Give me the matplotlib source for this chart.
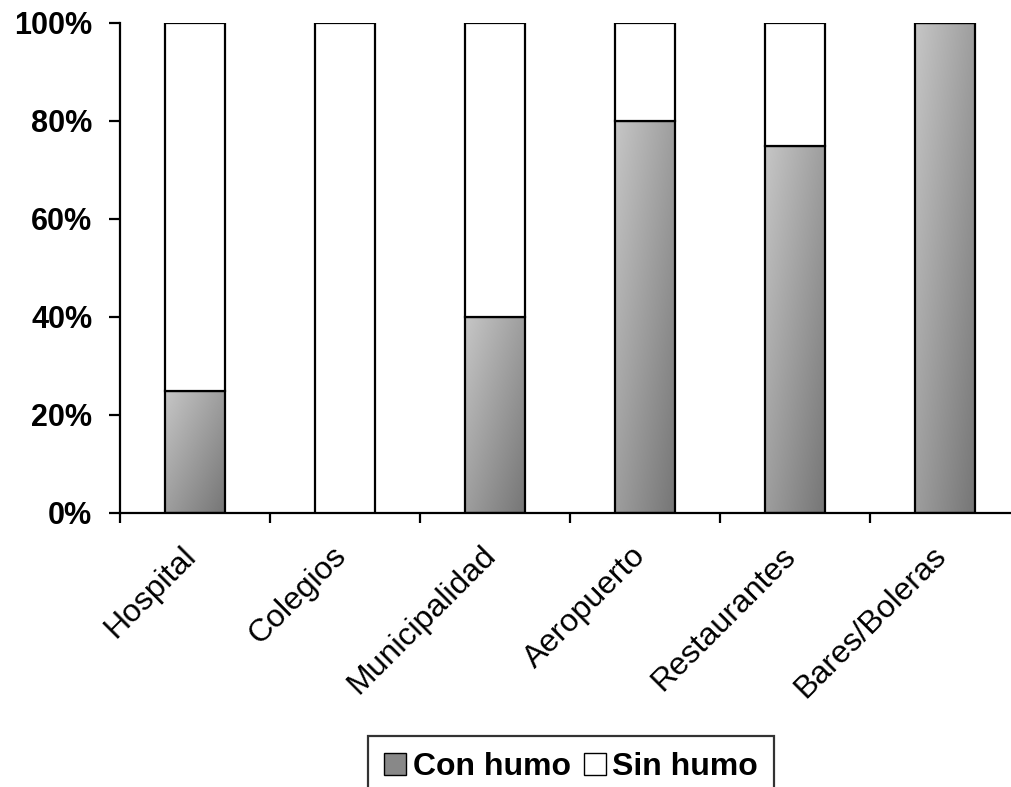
import numpy as np
import matplotlib
matplotlib.use("Agg")
import matplotlib.pyplot as plt
import matplotlib.transforms as mtransforms
from matplotlib.patches import Patch
from matplotlib.colors import LinearSegmentedColormap

plt.rcParams["font.family"] = ["Liberation Sans", "DejaVu Sans"]

categories = ["Hospital", "Colegios", "Municipalidad", "Aeropuerto", "Restaurantes", "Bares/Boleras"]
con_humo = [25, 0, 40, 80, 75, 100]
sin_humo = [75, 100, 60, 20, 25, 0]

fig = plt.figure(figsize=(10.12, 7.87), dpi=100)
ax = fig.add_axes([120 / 1012, 274 / 787, 900 / 1012, 490 / 787])

x = np.arange(len(categories))
w = 0.4
bars_con = ax.bar(x, con_humo, w, color="none", edgecolor="black", linewidth=1.6, zorder=3)
ax.bar(x, sin_humo, w, bottom=con_humo, color="white", edgecolor="black", linewidth=1.6, zorder=3)

# diagonal gray gradient (light top-left -> dark bottom-right)
cmap = LinearSegmentedColormap.from_list("g", ["#c6c6c6", "#767676"])
gy, gx = np.mgrid[0:1:100j, 0:1:100j]
grad = gx * 0.5 + gy * 0.5
for b in bars_con:
    if b.get_height() <= 0:
        continue
    x0, y0 = b.get_x(), b.get_y()
    im = ax.imshow(grad, cmap=cmap, vmin=0, vmax=1, origin="upper",
                   extent=[x0, x0 + b.get_width(), y0, y0 + b.get_height()],
                   aspect="auto", zorder=2, interpolation="bilinear")
    im.set_clip_path(b)

ax.set_xlim(-0.5, 5.5)
ax.set_ylim(0, 100)
ax.set_xticks(np.arange(-0.5, 6.0, 1.0))
ax.set_xticklabels([])
ax.set_xticks(x, minor=True)
ax.set_xticklabels(categories, minor=True, rotation=45, ha="right",
                   rotation_mode="anchor", fontsize=23)
ax.tick_params(axis="x", which="minor", length=0, pad=20)
ax.tick_params(axis="x", which="major", length=7, width=1.6, direction="out")
shift = mtransforms.ScaledTranslation(-14 / 100, 0, fig.dpi_scale_trans)
for lab in ax.get_xticklabels(minor=True):
    lab.set_transform(lab.get_transform() + shift)
ax.set_yticks([0, 20, 40, 60, 80, 100])
ax.set_yticklabels(["0%", "20%", "40%", "60%", "80%", "100%"], fontsize=22, fontweight="bold")
ax.tick_params(axis="y", length=8, width=1.6, direction="out", pad=12)
for s in ["top", "right"]:
    ax.spines[s].set_visible(False)
for s in ["left", "bottom"]:
    ax.spines[s].set_linewidth(1.6)

handles = [Patch(facecolor="#888888", edgecolor="black", label="Con humo"),
           Patch(facecolor="white", edgecolor="black", label="Sin humo")]
leg = fig.legend(handles=handles, loc="upper center", bbox_to_anchor=(571 / 1012, 1 - 736 / 787),
                 ncol=2, frameon=True, fancybox=False, edgecolor="black",
                 prop={"weight": "bold", "size": 23}, handlelength=0.7, handleheight=0.7,
                 handletextpad=0.2, columnspacing=0.4, borderpad=0.5, borderaxespad=0)
leg.get_frame().set_linewidth(1.6)

fig.savefig("out.png", dpi=100)
